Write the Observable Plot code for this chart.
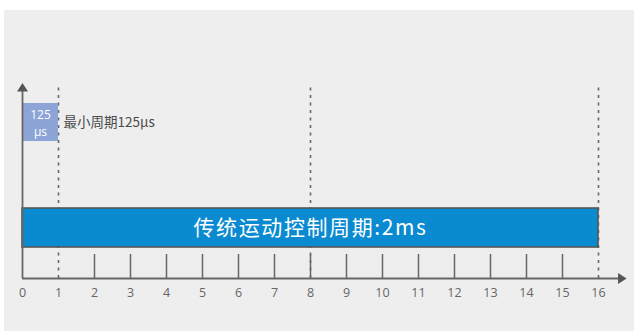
<!DOCTYPE html>
<html>
<head>
<meta charset="utf-8">
<script src="https://cdn.jsdelivr.net/npm/d3@7"></script>
<script src="https://cdn.jsdelivr.net/npm/@observablehq/plot@0.6"></script>
<style>
  html, body { margin: 0; padding: 0; background: #ffffff; }
  #wrap { position: relative; width: 634px; height: 331px; overflow: hidden; }
  #bg { position: absolute; left: 4px; top: 10px; right: 0; bottom: 0; background: #eeeeee; }
  #chart { position: absolute; left: 0; top: 0; }
  g[aria-description="main-label"] text { letter-spacing: 1.6px; }
</style>
</head>
<body>
<div id="wrap"><div id="bg"></div><div id="chart"></div></div>
<script>
// ---- data ----
const tickValues = [0, 1, 2, 3, 4, 5, 6, 7, 8, 9, 10, 11, 12, 13, 14, 15, 16];
const solidTicks = [2, 3, 4, 5, 6, 7, 8, 9, 10, 11, 12, 13, 14, 15];
const dashedAt = [1, 8, 16];
const mainCycle = [{start: 0, end: 16, label: "传统运动控制周期:2ms"}];
const minCycle = [{start: 0, end: 1, label: "125\nμs", note: "最小周期125μs"}];

// ---- layout (in y units = pixels above the axis) ----
const X_MAX = 16.78;      // extent of horizontal axis line (arrow tip)
const barY1 = 31, barY2 = 70;
const boxY1 = 137, boxY2 = 175;
const dashTop = 194;
const tickTop = 24;

const triangle = {
  draw(ctx) {
    ctx.moveTo(0, -4.5);
    ctx.lineTo(5.5, 4);
    ctx.lineTo(-5.5, 4);
    ctx.closePath();
  }
};

const axisColor = "#666666";

const chart = Plot.plot({
  width: 634,
  height: 331,
  margin: 0,
  style: {background: "transparent", fontFamily: "'Open Sans','Noto Sans CJK SC',sans-serif", overflow: "visible"},
  x: {domain: [0, 16], range: [22, 598], axis: null},
  y: {domain: [0, 268], range: [278, 10], axis: null},
  marks: [
    // dashed guide lines
    Plot.ruleX(dashedAt, {x: d => d, y1: 0, y2: dashTop, stroke: axisColor, strokeWidth: 1.6, strokeDasharray: "3 4.5"}),
    // main cycle bar
    Plot.rectY(mainCycle, {x1: "start", x2: "end", y1: barY1, y2: barY2, fill: "#0a8ad0", stroke: "#555555", strokeWidth: 1.6}),
    Plot.text(mainCycle, {x: d => (d.start + d.end) / 2, y: (barY1 + barY2) / 2, text: "label", fill: "white", fontSize: 21, fontFamily: "'Noto Sans CJK SC','Open Sans',sans-serif", ariaDescription: "main-label"}),
    // minimum cycle box
    Plot.rectY(minCycle, {x1: "start", x2: "end", y1: boxY1, y2: boxY2, fill: "#8ca4d6"}),
    Plot.text(minCycle, {x: d => (d.start + d.end) / 2, y: (boxY1 + boxY2) / 2, text: "label", fill: "white", fontSize: 12, lineHeight: 1.42}),
    Plot.text(minCycle, {x: "end", y: (boxY1 + boxY2) / 2, dx: 5, text: "note", textAnchor: "start", fill: "#4a4a4a", fontSize: 13.5, fontFamily: "'Noto Sans CJK SC','Open Sans',sans-serif"}),
    // solid ticks
    Plot.ruleX(solidTicks, {x: d => d, y1: 0, y2: tickTop, stroke: axisColor, strokeWidth: 1.5}),
    // axes
    Plot.ruleY([0], {x1: 0, x2: X_MAX - 0.2, stroke: axisColor, strokeWidth: 1.8}),
    Plot.ruleX([0], {y1: 0, y2: 188, stroke: axisColor, strokeWidth: 1.8}),
    Plot.dot([{x: X_MAX - 0.125, y: 0}], {x: "x", y: "y", symbol: triangle, r: 5, fill: "#555555", stroke: null, rotate: 90}),
    Plot.dot([{x: 0, y: 191}], {x: "x", y: "y", symbol: triangle, r: 5, fill: "#555555", stroke: null}),
    // tick labels
    Plot.text(tickValues, {x: d => d, y: -14, text: d => String(d), fill: "#666666", fontSize: 12.5})
  ]
});
document.getElementById("chart").appendChild(chart);
</script>
</body>
</html>
